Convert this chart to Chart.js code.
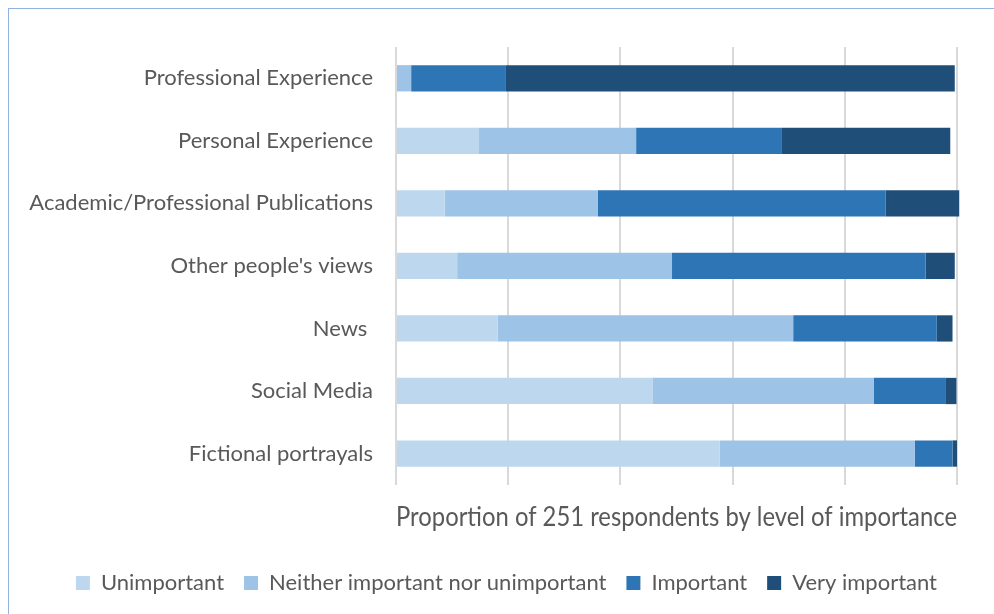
<!DOCTYPE html>
<html>
<head>
<meta charset="utf-8">
<script src="https://cdn.jsdelivr.net/npm/chart.js@4.4.1/dist/chart.umd.min.js"></script>
<style>
    html, body { margin: 0; padding: 0; background: #ffffff; overflow: hidden; }
    #wrap { position: relative; width: 994px; height: 614px; }
    #frame {
        position: absolute; left: 8px; top: 8px; width: 1000px; height: 620px;
        border-left: 1px solid #8db4e2; border-top: 1px solid #8db4e2;
    }
    canvas { position: absolute; left: 0; top: 0; }
</style>
</head>
<body>
<div id="wrap">
    <div id="frame"></div>
    <canvas id="grafico" width="994" height="614"></canvas>
</div>
<script>
// Fontes de informação - proporção de respondentes (%)

const categorias = [
    "Professional Experience",
    "Personal Experience",
    "Academic/Professional Publications",
    "Other people's views",
    "News ",
    "Social Media",
    "Fictional portrayals"
];

const unimportant   = [0.0, 14.8,  8.7, 10.9, 18.1, 45.7, 57.7];
const neither       = [2.7, 28.0, 27.3, 38.3, 52.7, 39.5, 34.8];
const important     = [16.9, 26.0, 51.3, 45.2, 25.6, 12.7, 6.7];
const veryImportant = [80.0, 30.0, 13.1, 5.2, 2.8, 2.0, 0.8];

const xTicks = [0, 20, 40, 60, 80, 100];

const FONTE = "Lato, 'Open Sans', sans-serif";
const CINZA = "#595959";

function serie(label, data, cor) {
    return {
        label: label,
        data: data,
        backgroundColor: cor,
        borderWidth: 0,
        barPercentage: 0.42,
        categoryPercentage: 1,
        clip: false
    };
}

new Chart(document.getElementById("grafico"), {
    type: "bar",
    data: {
        labels: categorias,
        datasets: [
            serie("Unimportant", unimportant, "#bdd7ee"),
            serie("Neither important nor unimportant", neither, "#9dc3e6"),
            serie("Important", important, "#2e75b6"),
            serie("Very important", veryImportant, "#1f4e79")
        ]
    },
    options: {
        indexAxis: "y",
        responsive: false,
        animation: false,
        layout: { padding: { top: 47, right: 37, left: 0, bottom: 10 } },
        plugins: {
            tooltip: { enabled: false },
            legend: {
                position: "bottom",
                align: "end",
                labels: {
                    boxWidth: 14,
                    boxHeight: 14,
                    padding: 20,
                    color: CINZA,
                    font: { family: FONTE, size: 22 }
                }
            }
        },
        scales: {
            x: {
                stacked: true,
                min: 0,
                max: 100,
                afterBuildTicks: scale => { scale.ticks = xTicks.map(v => ({ value: v })); },
                ticks: { display: false },
                border: { display: false },
                grid: { color: "#d9d9d9", lineWidth: 2, drawTicks: false },
                title: {
                    display: true,
                    text: "Proportion of 251 respondents by level of importance",
                    color: CINZA,
                    font: { family: FONTE, size: 26 },
                    padding: { top: 17, bottom: 19 }
                }
            },
            y: {
                stacked: true,
                afterFit: scale => { scale.width = 396; },
                border: { display: false },
                grid: { display: false, drawTicks: false, tickLength: 0 },
                ticks: {
                    color: CINZA,
                    padding: 23,
                    font: { family: FONTE, size: 22 }
                }
            }
        }
    }
});
</script>
</body>
</html>
